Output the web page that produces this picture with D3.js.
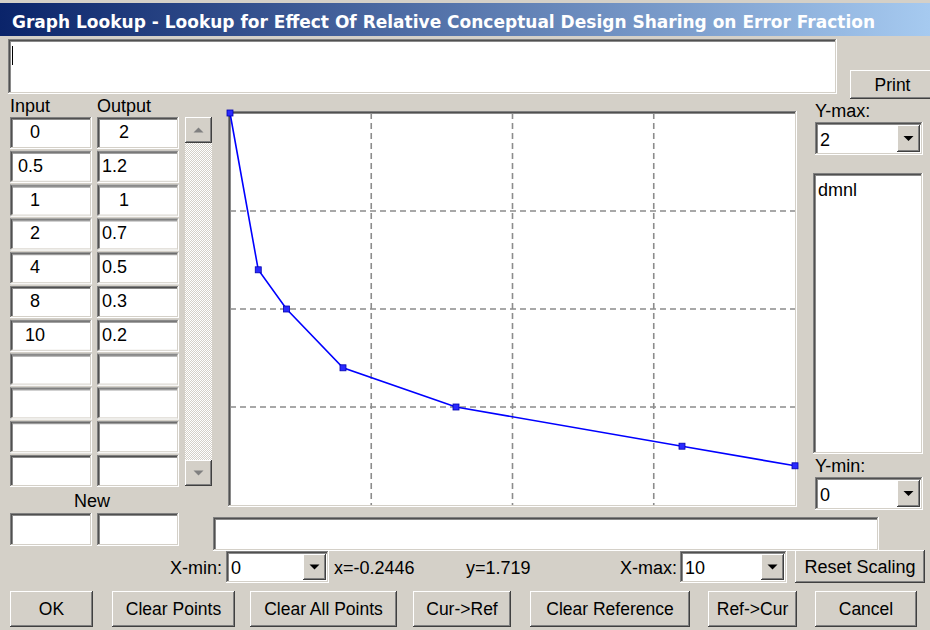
<!DOCTYPE html>
<html>
<head>
<meta charset="utf-8">
<script src="https://cdn.jsdelivr.net/npm/d3@7"></script>
<style>
  body { margin: 0; background: #d4d0c8; }
  svg { display: block; font-family: "Liberation Sans", Arial, sans-serif; }
</style>
</head>
<body>
<svg width="930" height="630"></svg>
<script>
// lookup table values
const inputs = [0, 0.5, 1, 2, 4, 8, 10];
const outputs = [2, 1.2, 1, 0.7, 0.5, 0.3, 0.2];
const xDomain = [0, 10];
const yDomain = [0, 2];
const xGridTicks = [2.5, 5, 7.5];
const yGridTicks = [0.5, 1, 1.5];
const units = "dmnl";
const cursorX = "x=-0.2446", cursorY = "y=1.719";
const title = "Graph Lookup - Lookup for Effect Of Relative Conceptual Design Sharing on Error Fraction";
const buttonLabels = ["OK", "Clear Points", "Clear All Points", "Cur->Ref", "Clear Reference", "Ref->Cur", "Cancel"];

const svg = d3.select("svg");
const face = "#d4d0c8";

svg.append("rect").attr("width", 930).attr("height", 630).attr("fill", face);

// title bar
const grad = svg.append("defs").append("linearGradient").attr("id", "tb");
grad.append("stop").attr("offset", "0%").attr("stop-color", "#0a246a");
grad.append("stop").attr("offset", "100%").attr("stop-color", "#a6caf0");
svg.append("rect").attr("x", 0).attr("y", 3).attr("width", 930).attr("height", 33).attr("fill", "url(#tb)");
svg.append("text")
    .attr("x", 12).attr("y", 28)
    .attr("fill", "#fff")
    .attr("font-family", "'DejaVu Sans', Tahoma, sans-serif")
    .attr("font-weight", "bold")
    .attr("font-size", 18)
    .attr("textLength", 863)
    .attr("lengthAdjust", "spacingAndGlyphs")
    .text(title);

// checker pattern for scrollbar track
const pat = svg.select("defs").append("pattern")
    .attr("id", "chk").attr("width", 2).attr("height", 2).attr("patternUnits", "userSpaceOnUse");
pat.append("rect").attr("width", 2).attr("height", 2).attr("fill", face);
pat.append("rect").attr("width", 1).attr("height", 1).attr("fill", "#fff");
pat.append("rect").attr("x", 1).attr("y", 1).attr("width", 1).attr("height", 1).attr("fill", "#fff");

function hline(g, x1, x2, y, c) {
    g.append("line").attr("x1", x1).attr("x2", x2).attr("y1", y).attr("y2", y).attr("stroke", c);
}
function vline(g, x, y1, y2, c) {
    g.append("line").attr("x1", x).attr("x2", x).attr("y1", y1).attr("y2", y2).attr("stroke", c);
}

function sunken(x, y, w, h) {
    const g = svg.append("g");
    g.append("rect").attr("x", x).attr("y", y).attr("width", w).attr("height", h).attr("fill", "#fff");
    hline(g, x, x + w, y + 0.5, "#808080");
    vline(g, x + 0.5, y, y + h, "#808080");
    hline(g, x + 1, x + w - 1, y + 1.5, "#505050");
    vline(g, x + 1.5, y + 1, y + h - 1, "#505050");
    hline(g, x + 2, x + w - 2, y + 2.5, "#8a8a8a");
    vline(g, x + 2.5, y + 2, y + h - 2, "#8a8a8a");
    hline(g, x, x + w, y + h - 0.5, "#fff");
    vline(g, x + w - 0.5, y, y + h, "#fff");
    hline(g, x + 1, x + w - 1, y + h - 1.5, face);
    vline(g, x + w - 1.5, y + 1, y + h - 1, face);
    return g;
}

function raised(x, y, w, h, label, fs) {
    const g = svg.append("g");
    g.append("rect").attr("x", x).attr("y", y).attr("width", w).attr("height", h).attr("fill", face);
    hline(g, x, x + w, y + 0.5, "#fff");
    vline(g, x + 0.5, y, y + h, "#fff");
    hline(g, x, x + w, y + h - 0.5, "#404040");
    vline(g, x + w - 0.5, y, y + h, "#404040");
    hline(g, x + 1, x + w - 1, y + h - 1.5, "#808080");
    vline(g, x + w - 1.5, y + 1, y + h - 1, "#808080");
    if (label) {
        g.append("text").attr("x", x + w / 2).attr("y", y + h / 2 + 6)
            .attr("text-anchor", "middle").attr("font-size", fs || 17.5).text(label);
    }
    return g;
}

function arrow(g, cx, cy, dir, color) {
    const s = dir === "down" ? 1 : -1;
    g.append("path")
        .attr("d", `M${cx - 5},${cy - 2.5 * s}L${cx + 5},${cy - 2.5 * s}L${cx},${cy + 2.5 * s}Z`)
        .attr("fill", color);
}

function combo(x, y, w, h, value) {
    sunken(x, y, w, h);
    const b = raised(x + w - 26, y + 3, 23, h - 6);
    arrow(b, x + w - 14.5, y + h / 2, "down", "#000");
    svg.append("text").attr("x", x + 5).attr("y", y + h / 2 + 7).attr("font-size", 18).text(value);
}

function label(x, y, t, anchor) {
    svg.append("text").attr("x", x).attr("y", y).attr("font-size", 18)
        .attr("text-anchor", anchor || "start").text(t);
}

// comment text box + cursor
sunken(8, 39, 829, 55);
vline(svg, 12.5, 46, 65, "#000");
raised(850, 70, 85, 29, "Print");

// input/output table
label(10, 112, "Input");
label(97, 112, "Output");
const rows = 11;
const fmt = d3.format("");
function offset(v, col) {
    const s = String(v);
    if (s.includes(".")) return col === 0 ? 8 : 5;
    return s.length > 1 ? 15 : (col === 0 ? 20 : 22);
}
for (let i = 0; i < rows; i++) {
    const top = 117 + i * 33.8;
    sunken(10, top, 82, 32);
    sunken(97, top, 82, 32);
    if (i < inputs.length) {
        svg.append("text").attr("x", 10 + offset(inputs[i], 0)).attr("y", top + 21)
            .attr("font-size", 18).text(fmt(inputs[i]));
        svg.append("text").attr("x", 97 + offset(outputs[i], 1)).attr("y", top + 21)
            .attr("font-size", 18).text(fmt(outputs[i]));
    }
}
label(92, 507, "New", "middle");
sunken(10, 513, 82, 33);
sunken(97, 513, 82, 33);

// scrollbar
svg.append("rect").attr("x", 185).attr("y", 143).attr("width", 27).attr("height", 317).attr("fill", "url(#chk)");
const up = raised(185, 117, 27, 26);
arrow(up, 198.5, 130, "up", "#808080");
const dn = raised(185, 460, 27, 26);
arrow(dn, 198.5, 473, "down", "#808080");

// plot
const plot = { left: 230, right: 795, top: 113, bottom: 505 };
const x = d3.scaleLinear().domain(xDomain).range([plot.left, plot.right]);
const y = d3.scaleLinear().domain(yDomain).range([plot.bottom, plot.top]);

sunken(plot.left - 2, plot.top - 2, plot.right - plot.left + 4, plot.bottom - plot.top + 4);

const grid = svg.append("g")
    .attr("stroke", "#8c8c8c").attr("stroke-width", 1.6).attr("stroke-dasharray", "6,4");
grid.selectAll(".vx").data(xGridTicks).enter().append("line")
    .attr("x1", d => x(d)).attr("x2", d => x(d))
    .attr("y1", plot.top).attr("y2", plot.bottom);
grid.selectAll(".hy").data(yGridTicks).enter().append("line")
    .attr("x1", plot.left).attr("x2", plot.right)
    .attr("y1", d => y(d)).attr("y2", d => y(d));

const pts = inputs.map((v, i) => [v, outputs[i]]);
svg.append("path")
    .datum(pts)
    .attr("fill", "none")
    .attr("stroke", "#0000ff")
    .attr("stroke-width", 1.6)
    .attr("d", d3.line().x(d => x(d[0])).y(d => y(d[1])));
svg.selectAll(".pt").data(pts).enter().append("rect")
    .attr("x", d => x(d[0]) - 3).attr("y", d => y(d[1]) - 3)
    .attr("width", 6).attr("height", 6)
    .attr("fill", "#2a2aff").attr("stroke", "#0000b0").attr("stroke-width", 0.8);

// right side
label(815, 117, "Y-max:");
combo(815, 122, 108, 33, fmt(yDomain[1]));
sunken(813, 173, 110, 281);
svg.append("text").attr("x", 818).attr("y", 196).attr("font-size", 18).text(units);
label(815, 472, "Y-min:");
combo(815, 477, 108, 33, fmt(yDomain[0]));

// status + scaling row
sunken(213, 517, 666, 34);
label(222, 574, "X-min:", "end");
combo(226, 551, 103, 32, fmt(xDomain[0]));
label(334, 574, cursorX);
label(466, 574, cursorY);
label(677, 574, "X-max:", "end");
combo(680, 551, 107, 32, fmt(xDomain[1]));
raised(795, 550, 130, 33, "Reset Scaling", 18);

// bottom buttons
const btnX = [10, 112, 250, 413, 530, 708, 815];
const btnW = [83, 123, 147, 98, 160, 89, 102];
buttonLabels.forEach((t, i) => raised(btnX[i], 591, btnW[i], 36, t, 17.5));
</script>
</body>
</html>
